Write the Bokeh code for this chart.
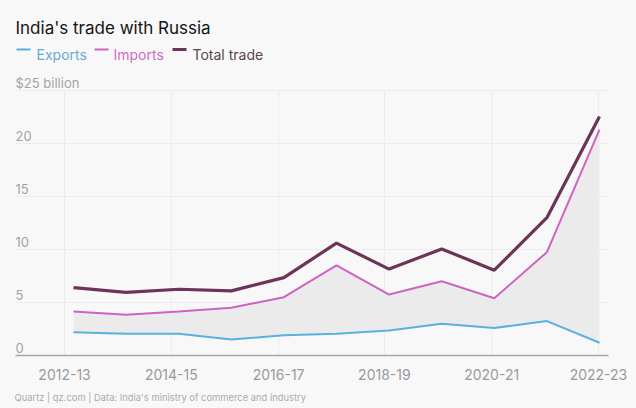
from bokeh.plotting import figure
from bokeh.models import (ColumnDataSource, FixedTicker, Label, LabelSet,
                          LinearAxis)
from bokeh.core.properties import value
from bokeh.embed import file_html
from bokeh.resources import INLINE

# ---- data (US$ billion) ----
years = ["2012-13", "2013-14", "2014-15", "2015-16", "2016-17", "2017-18",
         "2018-19", "2019-20", "2020-21", "2021-22", "2022-23"]
exports = [2.2, 2.05, 2.05, 1.5, 1.9, 2.05, 2.35, 3.0, 2.6, 3.25, 1.2]
imports = [4.15, 3.85, 4.15, 4.5, 5.5, 8.5, 5.75, 7.0, 5.4, 9.75, 21.3]
total = [6.4, 5.95, 6.25, 6.1, 7.35, 10.6, 8.15, 10.05, 8.05, 13.0, 22.55]

x_tick_labels = ["2012-13", "2014-15", "2016-17", "2018-19", "2020-21", "2022-23"]
x_tick_pos = [-0.17, 1.86, 3.9, 5.91, 7.95, 9.98]
y_ticks = [0, 5, 10, 15, 20, 25]
y_tick_labels = ["0", "5", "10", "15", "20", "$25 billion"]

FONT = "Inter"
BG = "#f8f8f8"
GRID = "#ececec"
C_EXP = "#59b1de"
C_IMP = "#cf63c3"
C_TOT = "#6b3458"

W, H = 636, 408

# canvas-pixel helpers (used only for placing texts / the plot box)
def px2x(px):
    return (px - 73) / 52.6

def py2y(py):
    return (355 - py) / 10.6

PLOT_L, PLOT_R = px2x(15), px2x(608)
Y_TOP = y_ticks[-1]

src = ColumnDataSource(dict(x=list(range(len(years))), year=years,
                            exports=exports, imports=imports, total=total))

p = figure(width=W, height=H, output_backend="svg", toolbar_location=None,
           x_range=(px2x(0), px2x(W)), y_range=(py2y(H), py2y(0)),
           x_axis_location=None, y_axis_location=None,
           min_border=0)
p.background_fill_color = BG
p.border_fill_color = BG
p.outline_line_color = None
p.xgrid.visible = False
p.ygrid.visible = False

xt = FixedTicker(ticks=x_tick_pos)

# grid lines limited to the plot box
p.segment(x0=x_tick_pos, x1=x_tick_pos, y0=[0] * len(x_tick_pos),
          y1=[Y_TOP] * len(x_tick_pos), line_color=GRID, line_width=1)
p.segment(x0=[PLOT_L] * len(y_ticks), x1=[PLOT_R] * len(y_ticks),
          y0=y_ticks, y1=y_ticks, line_color=GRID, line_width=1)

p.varea(x="x", y1="exports", y2="imports", source=src, fill_color="#ebebeb")
p.line(x="x", y="exports", source=src, line_color=C_EXP, line_width=2)
p.line(x="x", y="imports", source=src, line_color=C_IMP, line_width=2)
p.line(x="x", y="total", source=src, line_color=C_TOT, line_width=3.2)

xaxis = LinearAxis(ticker=xt, fixed_location=0, bounds=(PLOT_L, PLOT_R))
xaxis.major_label_overrides = {t: l for t, l in zip(x_tick_pos, x_tick_labels)}
xaxis.axis_line_color = "#a6a6a6"
xaxis.axis_line_width = 1.5
xaxis.major_tick_line_color = None
xaxis.minor_tick_line_color = None
xaxis.major_label_standoff = 7
xaxis.major_label_text_font = FONT
xaxis.major_label_text_font_size = "14px"
xaxis.major_label_text_color = "#9a9a9a"
p.add_layout(xaxis, "below")

ysrc = ColumnDataSource(dict(x=[PLOT_L] * len(y_ticks), y=y_ticks, t=y_tick_labels))
p.add_layout(LabelSet(x="x", y="y", text="t", source=ysrc, y_offset=3,
                      text_font=value(FONT), text_font_size="13px",
                      text_color="#a3a3a3", text_align="left",
                      text_baseline="alphabetic"))

p.add_layout(Label(x=px2x(15), y=py2y(27), text="India's trade with Russia",
                   text_font=FONT, text_font_size="17px", text_color="#141414",
                   text_baseline="alphabetic", text_align="left"))

legend_items = [("Exports", C_EXP, "#68a9d3", 16, 36, 2),
                ("Imports", C_IMP, "#cf6cc3", 94, 113, 2),
                ("Total trade", C_TOT, "#5a4552", 172, 192, 3)]
for name, lc, tc, lx, tx, lw in legend_items:
    p.segment(x0=[px2x(lx)], x1=[px2x(lx + 14)], y0=[py2y(49)], y1=[py2y(49)],
              line_color=lc, line_width=lw)
    p.add_layout(Label(x=px2x(tx), y=py2y(54), text=name, text_font=FONT,
                       text_font_size="14px", text_color=tc,
                       text_baseline="alphabetic", text_align="left"))

p.add_layout(Label(x=px2x(14), y=py2y(397),
                   text="Quartz | qz.com | Data: India's ministry of commerce and industry",
                   text_font=FONT, text_font_size="9.4px", text_color="#ababab",
                   text_baseline="alphabetic", text_align="left"))

open("out.html", "w").write(file_html(p, INLINE))
